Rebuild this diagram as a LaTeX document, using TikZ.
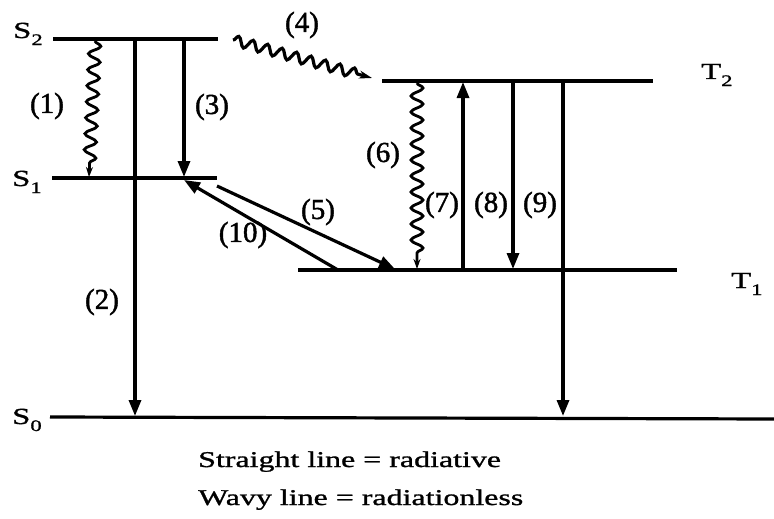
\documentclass[tikz,border=0pt]{standalone}
\usepackage{fontspec}
\setmainfont{Liberation Serif}
\newfontfamily\widefont[FakeStretch=1.42,FakeBold=1.2]{Liberation Serif}
\newfontfamily\numfont[FakeBold=1.5]{Liberation Serif}
\usetikzlibrary{arrows.meta,decorations.pathmorphing}
\newcommand\lvltxt[2]{#1\raisebox{-7pt}{\fontsize{16}{16}\selectfont #2}}
\begin{document}
\begin{tikzpicture}[x=1pt,y=-1pt,
  level/.style={line width=3.2pt},
  rad/.style={line width=3.2pt,-{Triangle[length=16pt,width=12pt]}},
  wavy/.style={line width=2.8pt,decorate,decoration={snake,amplitude=6pt,segment length=16pt,post length=10pt},-{Stealth[length=10pt,width=7pt]}},
  num/.style={font=\numfont\fontsize{29}{31}\selectfont, inner sep=0pt},
  lvl/.style={font=\widefont\fontsize{23}{26}\selectfont, inner sep=0pt, anchor=base west},
  captext/.style={font=\widefont\fontsize{22.5}{26}\selectfont, inner sep=0pt, anchor=base west}]
\useasboundingbox (0,0) rectangle (774,519);
\fill[white] (0,0) rectangle (774,519);
% energy levels
\coordinate (S2a) at (53,39);  \coordinate (S2b) at (218,39);
\coordinate (S1a) at (52,178); \coordinate (S1b) at (217,178);
\coordinate (S0a) at (50,417); \coordinate (S0b) at (774,419);
\coordinate (T2a) at (382,81); \coordinate (T2b) at (653,81);
\coordinate (T1a) at (298,270); \coordinate (T1b) at (677,270);
\draw[level] (S2a) -- (S2b);
\draw[level] (S1a) -- (S1b);
\draw[level] (S0a) -- (S0b);
\draw[level] (T2a) -- (T2b);
\draw[level] (T1a) -- (T1b);
% level labels
\node[lvl] (lS2) at (13,38) {\lvltxt{S}{2}};
\node[lvl] (lS1) at (12,186) {\lvltxt{S}{1}};
\node[lvl] (lS0) at (12,424) {\lvltxt{S}{0}};
\node[lvl] (lT2) at (701,79) {\lvltxt{T}{2}};
\node[lvl] (lT1) at (731,288) {\lvltxt{T}{1}};
% transition end points
\coordinate (a1s) at (95,41);   \coordinate (a1e) at (89,177);
\coordinate (a2s) at (135,39);  \coordinate (a2e) at (135,416);
\coordinate (a3s) at (184,39);  \coordinate (a3e) at (184,177);
\coordinate (a4s) at (233,40);  \coordinate (a4e) at (372,78);
\coordinate (a5s) at (217,186); \coordinate (a5e) at (395,269);
\coordinate (a10s) at (338,270); \coordinate (a10e) at (184,180);
\coordinate (a6s) at (417,83);  \coordinate (a6e) at (417,269);
\coordinate (a7s) at (463,270); \coordinate (a7e) at (463,82);
\coordinate (a8s) at (513,81);  \coordinate (a8e) at (513,269);
\coordinate (a9s) at (563,81);  \coordinate (a9e) at (563,416);
% transitions
\draw[wavy] (a1s) -- (a1e);
\draw[rad] (a2s) -- (a2e);
\draw[rad] (a3s) -- (a3e);
\draw[wavy,line width=3.2pt,decoration={snake,amplitude=5pt,segment length=15pt,post length=14pt},-{Stealth[length=13pt,width=8pt]}] (a4s) -- (a4e);
\draw[rad] (a5s) -- (a5e);
\draw[rad] (a10s) -- (a10e);
\draw[wavy] (a6s) -- (a6e);
\draw[rad] (a7s) -- (a7e);
\draw[rad] (a8s) -- (a8e);
\draw[rad] (a9s) -- (a9e);
% labels
\node[num] (n1) at (47,106) {(1)};
\node[num] (n2) at (102,302) {(2)};
\node[num] (n3) at (212,107) {(3)};
\node[num] (n4) at (302,25) {(4)};
\node[num] (n5) at (318,212) {(5)};
\node[num] (n10) at (243,235) {(10)};
\node[num] (n6) at (383,155) {(6)};
\node[num] (n7) at (442,205) {(7)};
\node[num] (n8) at (491,205) {(8)};
\node[num] (n9) at (540,205) {(9)};
% caption
\node[captext] (cap1) at (198,467) {Straight line = radiative};
\node[captext] (cap2) at (198,505) {Wavy line = radiationless};
\end{tikzpicture}
\end{document}
